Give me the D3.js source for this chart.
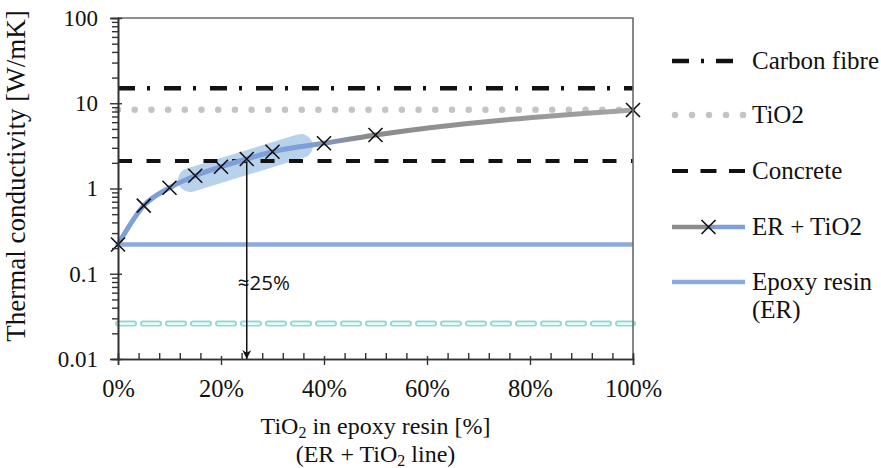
<!DOCTYPE html>
<html>
<head>
<meta charset="utf-8">
<script src="https://cdnjs.cloudflare.com/ajax/libs/d3/7.8.5/d3.min.js"></script>
<style>
  body { margin: 0; background: #fff; }
  svg text { font-family: "Liberation Serif", "Times New Roman", serif; fill: #111; }
</style>
</head>
<body>
<div id="chart"></div>
<script>
// TiO2 share (%) and measured conductivity of ER + TiO2
var tio2Pct = [0, 5, 10, 15, 20, 25, 30, 40, 50, 100];
var erTio2 = [0.22, 0.63, 1.02, 1.41, 1.80, 2.22, 2.70, 3.39, 4.24, 8.34];

// horizontal reference materials
var refNames = ["Carbon fibre", "TiO2", "Concrete", "Epoxy resin", "Air"];
var refValues = [15, 8.4, 2.1, 0.22, 0.026];

var yTickValues = [0.01, 0.1, 1, 10, 100];
var yTickLabels = ["0.01", "0.1", "1", "10", "100"];
var xTickValues = [0, 20, 40, 60, 80, 100];
var xTickLabels = ["0%", "20%", "40%", "60%", "80%", "100%"];

// highlighted zone and arrow
var bandPct = [14, 35.5];
var bandVal = [1.26, 3.15];
var arrowPct = 25;

var width = 881, height = 468;
var margin = { top: 18, right: 248, bottom: 109, left: 118 };
var w = width - margin.left - margin.right;
var h = height - margin.top - margin.bottom;

var svg = d3.select("#chart").append("svg")
  .attr("width", width)
  .attr("height", height);

var defs = svg.append("defs");
var grad = defs.append("linearGradient")
  .attr("id", "curveGrad")
  .attr("gradientUnits", "userSpaceOnUse")
  .attr("x1", margin.left).attr("x2", margin.left + w)
  .attr("y1", 0).attr("y2", 0);
grad.append("stop").attr("offset", "0").attr("stop-color", "#7f9fd9");
grad.append("stop").attr("offset", "0.13").attr("stop-color", "#7f9fd9");
grad.append("stop").attr("offset", "0.25").attr("stop-color", "#8a8a8a");
grad.append("stop").attr("offset", "0.55").attr("stop-color", "#979797");
grad.append("stop").attr("offset", "1").attr("stop-color", "#b3b3b3");

var lgGrad = defs.append("linearGradient")
  .attr("id", "legendGrad");
lgGrad.append("stop").attr("offset", "0").attr("stop-color", "#8c8c8c");
lgGrad.append("stop").attr("offset", "0.45").attr("stop-color", "#8c8c8c");
lgGrad.append("stop").attr("offset", "0.6").attr("stop-color", "#7f9fd9");
lgGrad.append("stop").attr("offset", "1").attr("stop-color", "#7f9fd9");

defs.append("marker")
  .attr("id", "arrowHead")
  .attr("viewBox", "0 0 10 10")
  .attr("refX", 10).attr("refY", 5)
  .attr("markerWidth", 9).attr("markerHeight", 9)
  .attr("markerUnits", "userSpaceOnUse")
  .attr("orient", "auto")
  .append("path")
  .attr("d", "M0,0 L10,5 L0,10 L3,5 Z")
  .attr("fill", "#111");

var g = svg.append("g")
  .attr("transform", "translate(" + margin.left + "," + margin.top + ")");

var x = d3.scaleLinear().domain([0, 100]).range([0, w]);
var y = d3.scaleLog().domain([0.01, 100]).range([h, 0]);

// highlight band
g.append("line")
  .attr("x1", x(bandPct[0])).attr("y1", y(bandVal[0]))
  .attr("x2", x(bandPct[1])).attr("y2", y(bandVal[1]))
  .attr("stroke", "#b8d2eb")
  .attr("stroke-width", 24)
  .attr("stroke-linecap", "round");

// reference lines
var refStyles = [
  { color: "#111", width: 4.5, dash: "17,12,3,14", cap: "butt" },
  { color: "#c4c4c4", width: 6.5, dash: "0,16.7", cap: "round" },
  { color: "#111", width: 4, dash: "14,14.5", cap: "butt" },
  { color: "#8eaadb", width: 4.5, dash: null, cap: "butt" },
  { color: "#8fdad4", width: 6, dash: "16,9", cap: "round" }
];
refValues.forEach(function(v, i) {
  var s = refStyles[i];
  var ln = g.append("line")
    .attr("x1", x(0)).attr("x2", x(100))
    .attr("y1", y(v)).attr("y2", y(v))
    .attr("stroke", s.color)
    .attr("stroke-width", s.width)
    .attr("stroke-linecap", s.cap);
  if (s.dash) ln.attr("stroke-dasharray", s.dash);
  if (refNames[i] == "Air") {
    // hollow dashes
    g.append("line")
      .attr("x1", x(0)).attr("x2", x(100))
      .attr("y1", y(v)).attr("y2", y(v))
      .attr("stroke", "#fff")
      .attr("stroke-width", 2.2)
      .attr("stroke-linecap", "round")
      .attr("stroke-dasharray", s.dash);
  }
});

// arrow from 25% point down to axis
var arrowVal = erTio2[tio2Pct.indexOf(arrowPct)];
g.append("line")
  .attr("x1", x(arrowPct)).attr("x2", x(arrowPct))
  .attr("y1", y(arrowVal)).attr("y2", h)
  .attr("stroke", "#111")
  .attr("stroke-width", 1.5)
  .attr("marker-end", "url(#arrowHead)");
g.append("text")
  .attr("x", x(arrowPct) - 9)
  .attr("y", y(0.065))
  .style("font-family", "'Open Sans', 'Liberation Sans', sans-serif")
  .style("font-size", "20.5px")
  .text("\u224825%");

// ER + TiO2 curve
var pts = tio2Pct.map(function(p, i) { return [p, erTio2[i]]; });
var line = d3.line()
  .x(function(d) { return x(d[0]); })
  .y(function(d) { return y(d[1]); })
  .curve(d3.curveMonotoneX);
g.append("path")
  .datum(pts)
  .attr("d", line)
  .attr("fill", "none")
  .attr("stroke", "url(#curveGrad)")
  .attr("stroke-width", 5)
  .attr("stroke-linecap", "round");

g.selectAll(".mark")
  .data(pts)
  .enter().append("path")
  .attr("class", "mark")
  .attr("transform", function(d) { return "translate(" + x(d[0]) + "," + y(d[1]) + ")"; })
  .attr("d", "M-7,-7L7,7M-7,7L7,-7")
  .attr("stroke", "#111")
  .attr("stroke-width", 1.6)
  .attr("fill", "none");

// frame
g.append("path")
  .attr("d", "M0,0H" + w + "V" + h)
  .attr("fill", "none")
  .attr("stroke", "#6a6a6a")
  .attr("stroke-width", 1.6);

// y axis: minor ticks then major ticks
var yMinor = y.ticks().filter(function(t) { return yTickValues.indexOf(t) < 0; });
var yMinorAxis = g.append("g")
  .call(d3.axisLeft(y).tickValues(yMinor).tickSize(6).tickFormat(""));
var yAxis = g.append("g")
  .call(d3.axisLeft(y).tickValues(yTickValues).tickSize(8).tickPadding(12)
    .tickFormat(function(d, i) { return yTickLabels[i]; }));
yAxis.selectAll(".tick line").attr("x2", -8).attr("x1", 4);

var xMinor = d3.range(0, 101, 4).filter(function(t) { return xTickValues.indexOf(t) < 0; });
var xMinorAxis = g.append("g")
  .attr("transform", "translate(0," + h + ")")
  .call(d3.axisBottom(x).tickValues(xMinor).tickSize(-6).tickFormat(""));
var xAxis = g.append("g")
  .attr("transform", "translate(0," + h + ")")
  .call(d3.axisBottom(x).tickValues(xTickValues).tickSize(6).tickPadding(15)
    .tickFormat(function(d, i) { return xTickLabels[i]; }));
xAxis.selectAll(".tick line").attr("y1", -3).attr("y2", 6);

[yMinorAxis, yAxis, xMinorAxis, xAxis].forEach(function(a) {
  a.select(".domain").attr("stroke", "#333").attr("stroke-width", 1.6);
  a.selectAll(".tick line").attr("stroke", "#333").attr("stroke-width", 1.4);
  a.selectAll("text")
    .style("font-family", "'Liberation Serif', serif")
    .style("font-size", "23px")
    .attr("fill", "#111");
});
xAxis.selectAll("text").style("font-size", "24.5px");

// axis titles
svg.append("text")
  .attr("transform", "translate(25,176) rotate(-90)")
  .attr("text-anchor", "middle")
  .style("font-size", "27px")
  .text("Thermal conductivity [W/mK]");

var xt = svg.append("text")
  .attr("x", margin.left + w / 2)
  .attr("y", 434)
  .attr("text-anchor", "middle")
  .style("font-size", "24px");
xt.append("tspan").text("TiO");
xt.append("tspan").attr("dy", 4).style("font-size", "16px").text("2");
xt.append("tspan").attr("dy", -4).text(" in epoxy resin [%]");

var xt2 = svg.append("text")
  .attr("x", margin.left + w / 2)
  .attr("y", 462)
  .attr("text-anchor", "middle")
  .style("font-size", "24px");
xt2.append("tspan").text("(ER + TiO");
xt2.append("tspan").attr("dy", 4).style("font-size", "16px").text("2");
xt2.append("tspan").attr("dy", -4).text(" line)");

// legend
var legendNames = ["Carbon fibre", "TiO2", "Concrete", "ER + TiO2", "Epoxy resin"];
var legendY = [61, 115, 171, 227, 282];
var lx0 = 672, lx1 = 745;
var legend = svg.append("g");
legendNames.forEach(function(name, i) {
  var ly = legendY[i];
  var s;
  if (name == "ER + TiO2") {
    legend.append("line")
      .attr("x1", lx0).attr("x2", lx1).attr("y1", ly).attr("y2", ly + 0.01)
      .attr("stroke", "url(#legendGrad)").attr("stroke-width", 4.5);
    legend.append("path")
      .attr("transform", "translate(" + (lx0 + lx1) / 2 + "," + ly + ")")
      .attr("d", "M-7,-7L7,7M-7,7L7,-7")
      .attr("stroke", "#111").attr("stroke-width", 1.6).attr("fill", "none");
  } else {
    s = refStyles[refNames.indexOf(name)];
    var ln = legend.append("line")
      .attr("x1", s.cap == "round" ? lx0 + 3 : lx0).attr("x2", lx1)
      .attr("y1", ly).attr("y2", ly)
      .attr("stroke", s.color).attr("stroke-width", s.width)
      .attr("stroke-linecap", s.cap);
    if (name == "Carbon fibre") ln.attr("stroke-dasharray", "17,12,3,12,17");
    else if (name == "TiO2") ln.attr("stroke-dasharray", "0,17");
    else if (name == "Concrete") ln.attr("stroke-dasharray", "16,12.5");
  }
  legend.append("text")
    .attr("x", 752)
    .attr("y", ly + 8)
    .style("font-size", "25px")
    .text(name);
});
legend.append("text")
  .attr("x", 752)
  .attr("y", legendY[4] + 36)
  .style("font-size", "25px")
  .text("(ER)");
</script>
</body>
</html>
